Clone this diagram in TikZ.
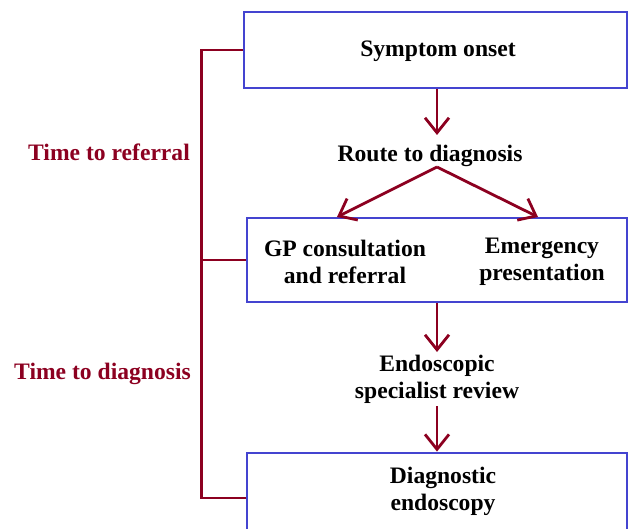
\documentclass[tikz,border=0pt]{standalone}
\usepackage{fontspec}
\setmainfont{Liberation Serif}
\usetikzlibrary{arrows.meta}
\definecolor{dred}{RGB}{140,0,32}
\definecolor{bblue}{RGB}{68,68,208}
\begin{document}
\begin{tikzpicture}[x=1pt,y=-1pt,
  box/.style={draw=bblue,line width=2.8pt,rectangle,inner sep=0pt},
  txt/.style={font=\fontsize{23.6}{27}\selectfont\bfseries,align=center,inner sep=0pt,text=black},
  lab/.style={font=\fontsize{23.6}{27}\selectfont\bfseries,text=dred,inner sep=0pt,anchor=east},
  arr/.style={draw=dred,line width=2.8pt,-{Straight Barb[length=15pt,width=24pt,line width=2.8pt]}},
  br/.style={draw=dred,line width=2.8pt}]
\clip (0,0) rectangle (628,529);
\node[box,minimum width=383pt,minimum height=76pt] (box1) at (435.5,50) {};
\node[txt] (t1) at (438,51.5) {Symptom onset};
\node[box,minimum width=380pt,minimum height=84pt] (box2) at (437,260) {};
\node[box,minimum width=380pt,minimum height=90pt] (box3) at (437,498) {};
\node[txt] (route) at (430,155.5) {Route to diagnosis};
\node[txt] (gp) at (345,262) {GP consultation\\and referral};
\node[txt] (em) at (542,261.5) {Emergency\\presentation};
\node[txt] (endo) at (437,379.5) {Endoscopic\\specialist review};
\node[txt] (diag) at (443,491) {Diagnostic\\endoscopy};
\coordinate (apex) at (437,167);
\coordinate (gptip) at (337,217);
\coordinate (emtip) at (538,217);
\draw[arr] (box1.south -| apex) -- (437,135) coordinate (rtop);
\draw[arr,line join=round] (apex) -- (gptip);
\draw[arr,line join=round] (apex) -- (emtip);
\draw[arr] (box2.south) -- (437,352) coordinate (etop);
\draw[arr] (437,406) coordinate (ebot) -- (box3.north);
\draw[br] (box1.west) -- ++(-41,0) coordinate (bt) -- (bt |- box3.west) -- (box3.west);
\draw[br] (box2.west) -- (box2.west -| bt);
\node[lab] (l1) at (190,152) {Time to referral};
\node[lab] (l2) at (191,373.5) {Time to diagnosis};
\end{tikzpicture}
\end{document}
